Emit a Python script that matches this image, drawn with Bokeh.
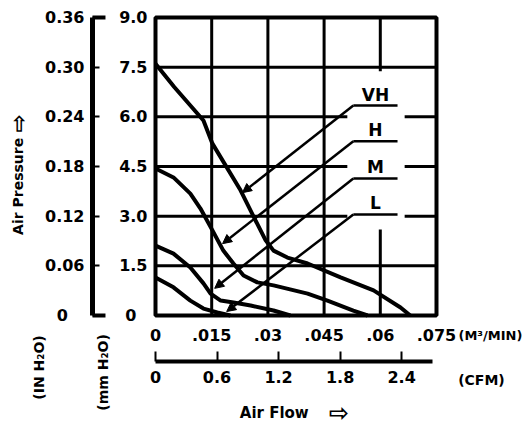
from math import pi
from bokeh.plotting import figure
from bokeh.models import (Range1d, LinearAxis, FixedTicker, Label, BoxAnnotation,
                          Arrow, NormalHead)
from bokeh.embed import file_html
from bokeh.resources import INLINE

FONT = "DejaVu Sans"
NB = "\u00a0"

# ---- tick values / labels ----
flow_ticks = [0, 0.015, 0.03, 0.045, 0.06, 0.075]
flow_tick_labels = ["0", ".015", ".03", ".045", ".06", ".075"]
cfm_ticks = [0, 0.6, 1.2, 1.8, 2.4]
cfm_tick_labels = ["0", "0.6", "1.2", "1.8", "2.4"]
mm_ticks = [0, 1.5, 3.0, 4.5, 6.0, 7.5, 9.0]
mm_tick_labels = ["0" + NB * 2, "1.5", "3.0", "4.5", "6.0", "7.5", "9.0"]
in_ticks = [0, 0.06, 0.12, 0.18, 0.24, 0.30, 0.36]
in_tick_labels = ["0" + NB * 3, "0.06", "0.12", "0.18", "0.24", "0.30", "0.36"]

# ---- series (air flow in m3/min, pressure in mm H2O) ----
speed_names = ["VH", "H", "M", "L"]
vh_flow = [0, 0.005, 0.0128, 0.0152, 0.0227, 0.0267, 0.0294, 0.0315, 0.0352, 0.0406, 0.0494, 0.0582, 0.0654, 0.068]
vh_pres = [7.6, 6.9, 5.89, 5.19, 3.78, 2.87, 2.27, 1.96, 1.75, 1.57, 1.15, 0.76, 0.24, 0.0]
h_flow = [0, 0.0048, 0.0093, 0.012, 0.0152, 0.0181, 0.0208, 0.0235, 0.0272, 0.0315, 0.0406, 0.0459, 0.0528, 0.0566]
h_pres = [4.44, 4.17, 3.68, 3.23, 2.57, 1.96, 1.57, 1.21, 1.0, 0.91, 0.66, 0.45, 0.15, 0.0]
m_flow = [0, 0.0048, 0.0093, 0.0128, 0.0147, 0.0174, 0.0208, 0.0254, 0.0315, 0.036]
m_pres = [2.11, 1.87, 1.45, 0.97, 0.66, 0.45, 0.39, 0.30, 0.15, 0.0]
l_flow = [0, 0.0048, 0.0093, 0.0128, 0.0165, 0.02]
l_pres = [1.15, 0.85, 0.45, 0.21, 0.09, 0.0]

# leader-line annotation anchors (label y, arrow tip)
label_y = [6.67, 5.59, 4.50, 3.41]
underline_y = [6.34, 5.26, 4.14, 3.05]
tip_x = [0.0232, 0.0179, 0.0158, 0.0190]
tip_y = [3.71, 2.17, 0.82, 0.12]

FLOW_MAX, PRES_MAX, CFM_MAX, IN_MAX = 0.075, 9.0, 2.74, 0.36
IN_AXIS_X = -0.016815

# the frame covers the whole canvas; the chart box is 0..0.075 x 0..9
p = figure(width=530, height=426, title=None,
           x_range=Range1d(-0.04137, 0.10009), y_range=Range1d(-3.3523, 9.5134),
           output_backend="svg", toolbar_location=None,
           min_border_left=0, min_border_right=0, min_border_top=0, min_border_bottom=0)
p.extra_x_ranges = {"cfm": Range1d(-1.5114, 3.6566)}
p.extra_y_ranges = {"in": Range1d(-0.1341, 0.38054)}
p.outline_line_color = None
p.background_fill_color = "white"
p.border_fill_color = "white"
p.xgrid.visible = False
p.ygrid.visible = False

def style_labels(ax, size="16px"):
    ax.major_label_text_font = FONT
    ax.major_label_text_font_style = "bold"
    ax.major_label_text_font_size = size
    ax.major_label_text_color = "black"
    ax.minor_tick_line_color = None

# main flow axis (m3/min) along the bottom of the chart box
xa = p.xaxis[0]
xa.fixed_location = 0
xa.bounds = (0, FLOW_MAX)
xa.ticker = FixedTicker(ticks=flow_ticks)
xa.major_label_overrides = {t: s for t, s in zip(flow_ticks, flow_tick_labels)}
style_labels(xa)
xa.axis_line_color = None
xa.major_tick_line_color = None
xa.major_label_standoff = 7

# CFM axis
ca = LinearAxis(x_range_name="cfm", ticker=FixedTicker(ticks=cfm_ticks))
ca.fixed_location = -1.389
ca.bounds = (0, 2.7)
ca.major_label_overrides = {t: s for t, s in zip(cfm_ticks, cfm_tick_labels)}
style_labels(ca)
ca.axis_line_width = 4
ca.axis_line_color = "black"
ca.major_tick_in = 10
ca.major_tick_out = 0
ca.major_tick_line_width = 2
ca.major_tick_line_color = "black"
ca.major_label_standoff = 10
p.add_layout(ca, "below")

# mm H2O axis along the left of the chart box
ya = p.yaxis[0]
ya.fixed_location = 0
ya.bounds = (0, PRES_MAX)
ya.ticker = FixedTicker(ticks=mm_ticks)
ya.major_label_overrides = {t: s for t, s in zip(mm_ticks, mm_tick_labels)}
style_labels(ya)
ya.axis_line_color = None
ya.major_tick_line_color = None
ya.major_label_standoff = 2

# IN H2O axis
ia = LinearAxis(y_range_name="in", ticker=FixedTicker(ticks=in_ticks))
ia.fixed_location = IN_AXIS_X
ia.bounds = (0, IN_MAX)
ia.major_label_overrides = {t: s for t, s in zip(in_ticks, in_tick_labels)}
style_labels(ia)
ia.axis_line_width = 5
ia.axis_line_color = "black"
ia.major_tick_in = 7
ia.major_tick_out = 0
ia.major_tick_line_width = 2
ia.major_tick_line_color = "black"
ia.major_label_standoff = 8
p.add_layout(ia, "left")
# end caps of the IN H2O bracket
p.segment(x0=[IN_AXIS_X] * 2, y0=[0, PRES_MAX], x1=[-0.01335] * 2, y1=[0, PRES_MAX],
          line_color="black", line_width=4)

# grid lines inside the chart box
inner_flow = flow_ticks[1:-1]
inner_pres = mm_ticks[1:-1]
p.segment(x0=inner_flow, y0=[0] * len(inner_flow), x1=inner_flow, y1=[PRES_MAX] * len(inner_flow),
          line_color="black", line_width=3)
p.segment(x0=[0] * len(inner_pres), y0=inner_pres, x1=[FLOW_MAX] * len(inner_pres), y1=inner_pres,
          line_color="black", line_width=3)
# gap in the grid behind the speed labels
p.quad(left=[0.0512], right=[0.0665], bottom=[2.6], top=[7.38],
       fill_color="white", line_color=None)

# chart box
p.add_layout(BoxAnnotation(left=0, right=FLOW_MAX, bottom=0, top=PRES_MAX,
                           fill_color=None, fill_alpha=0, line_color="black",
                           line_alpha=1.0, line_width=4))

# curves
for fx, fy in ((vh_flow, vh_pres), (h_flow, h_pres), (m_flow, m_pres), (l_flow, l_pres)):
    p.line(fx, fy, line_color="black", line_width=4)

# speed labels with leader lines
p.segment(x0=[0.0528] * 4, y0=underline_y, x1=[0.0646] * 4, y1=underline_y,
          line_color="black", line_width=2.5)
for name, ly, uy, tx, ty in zip(speed_names, label_y, underline_y, tip_x, tip_y):
    p.add_layout(Arrow(end=NormalHead(size=9, fill_color="black", line_color="black"),
                       x_start=0.0528, y_start=uy, x_end=tx, y_end=ty,
                       line_color="black", line_width=2.5))
    p.add_layout(Label(x=0.0587, y=ly, text=name, text_font=FONT, text_font_style="bold",
                       text_font_size="17px", text_align="center", text_baseline="middle",
                       text_color="black"))

def note(x, y, text, size="14px", angle=0.0):
    p.add_layout(Label(x=x, y=y, text=text, text_font=FONT, text_font_style="bold",
                       text_font_size=size, angle=angle, text_align="center",
                       text_baseline="middle", text_color="black"))

note(0.0894, -0.604, "(M³/MIN)", size="13px")
note(0.0870, -1.963, "(CFM)")
note(0.0317, -2.93, "Air Flow", size="15px")
note(0.0489, -2.93, "⇨", size="24px")
note(-0.0366, 3.90, "Air Pressure", angle=pi / 2)
note(-0.0366, 5.80, "⇨", size="22px", angle=pi / 2)
note(-0.0312, -1.57, "(IN H₂O)", angle=pi / 2)
note(-0.0139, -1.72, "(mm H₂O)", angle=pi / 2)

open("out.html", "w").write(file_html(p, INLINE))
